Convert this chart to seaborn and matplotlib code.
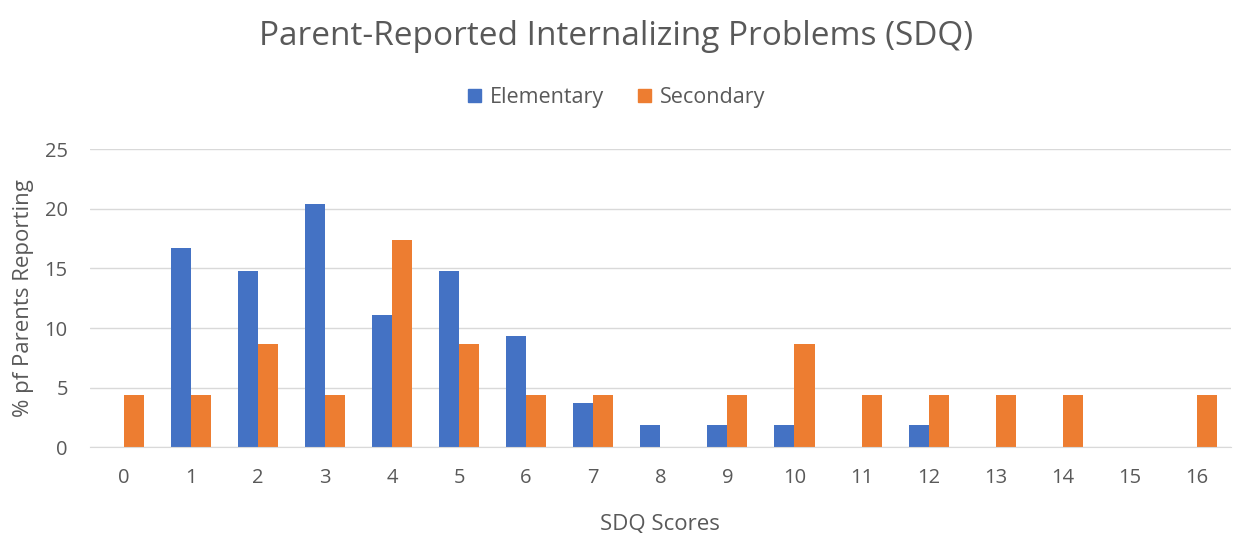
import pandas as pd
import matplotlib.pyplot as plt
import seaborn as sns

# --- Data ---
scores = list(range(17))
elementary = [0, 16.7, 14.8, 20.4, 11.1, 14.8, 9.3, 3.7, 1.85, 1.85, 1.85, 0, 1.85, 0, 0, 0, 0]
secondary = [4.35, 4.35, 8.7, 4.35, 17.4, 8.7, 4.35, 4.35, 0, 4.35, 8.7, 4.35, 4.35, 4.35, 4.35, 0, 4.35]
groups = ["Elementary", "Secondary"]
colors = ["#4472C4", "#ED7D31"]

df = pd.DataFrame({
    "score": [str(s) for s in scores] * 2,
    "pct": elementary + secondary,
    "group": [groups[0]] * len(scores) + [groups[1]] * len(scores),
})

sns.set_style("white")
plt.rcParams["font.family"] = ["Open Sans", "DejaVu Sans"]
gray = "#595959"

fig = plt.figure(figsize=(12.33, 5.33), dpi=100)
ax = fig.add_axes([0.073, 0.161, 0.925, 0.559])

sns.barplot(data=df, x="score", y="pct", hue="group", palette=colors,
            saturation=1, width=0.6, gap=0, linewidth=0, ax=ax, legend=False)

ax.set_ylim(0, 25)
ax.set_xlim(-0.5, 16.5)
ax.set_yticks([0, 5, 10, 15, 20, 25])
ax.yaxis.grid(True, color="#d9d9d9", linewidth=1)
ax.set_axisbelow(True)
for side in ["top", "right", "left"]:
    ax.spines[side].set_visible(False)
ax.spines["bottom"].set_color("#d9d9d9")
ax.tick_params(axis="both", length=0, labelsize=14.5, colors=gray)
ax.tick_params(axis="x", pad=15)
ax.tick_params(axis="y", pad=16)

ax.set_xlabel("SDQ Scores", fontsize=16, color=gray, labelpad=18)
ax.set_ylabel("% pf Parents Reporting", fontsize=16, color=gray, labelpad=8)

fig.suptitle("Parent-Reported Internalizing Problems (SDQ)", fontsize=24,
             color=gray, y=0.963)

handles = [plt.Rectangle((0, 0), 1, 1, color=c) for c in colors]
fig.legend(handles, groups, loc="center", bbox_to_anchor=(0.5, 0.817), ncol=2,
           frameon=False, fontsize=15.5, labelcolor=gray, handlelength=0.6,
           handleheight=0.6, columnspacing=1.6, handletextpad=0.4)

fig.savefig("out.png", dpi=100)
